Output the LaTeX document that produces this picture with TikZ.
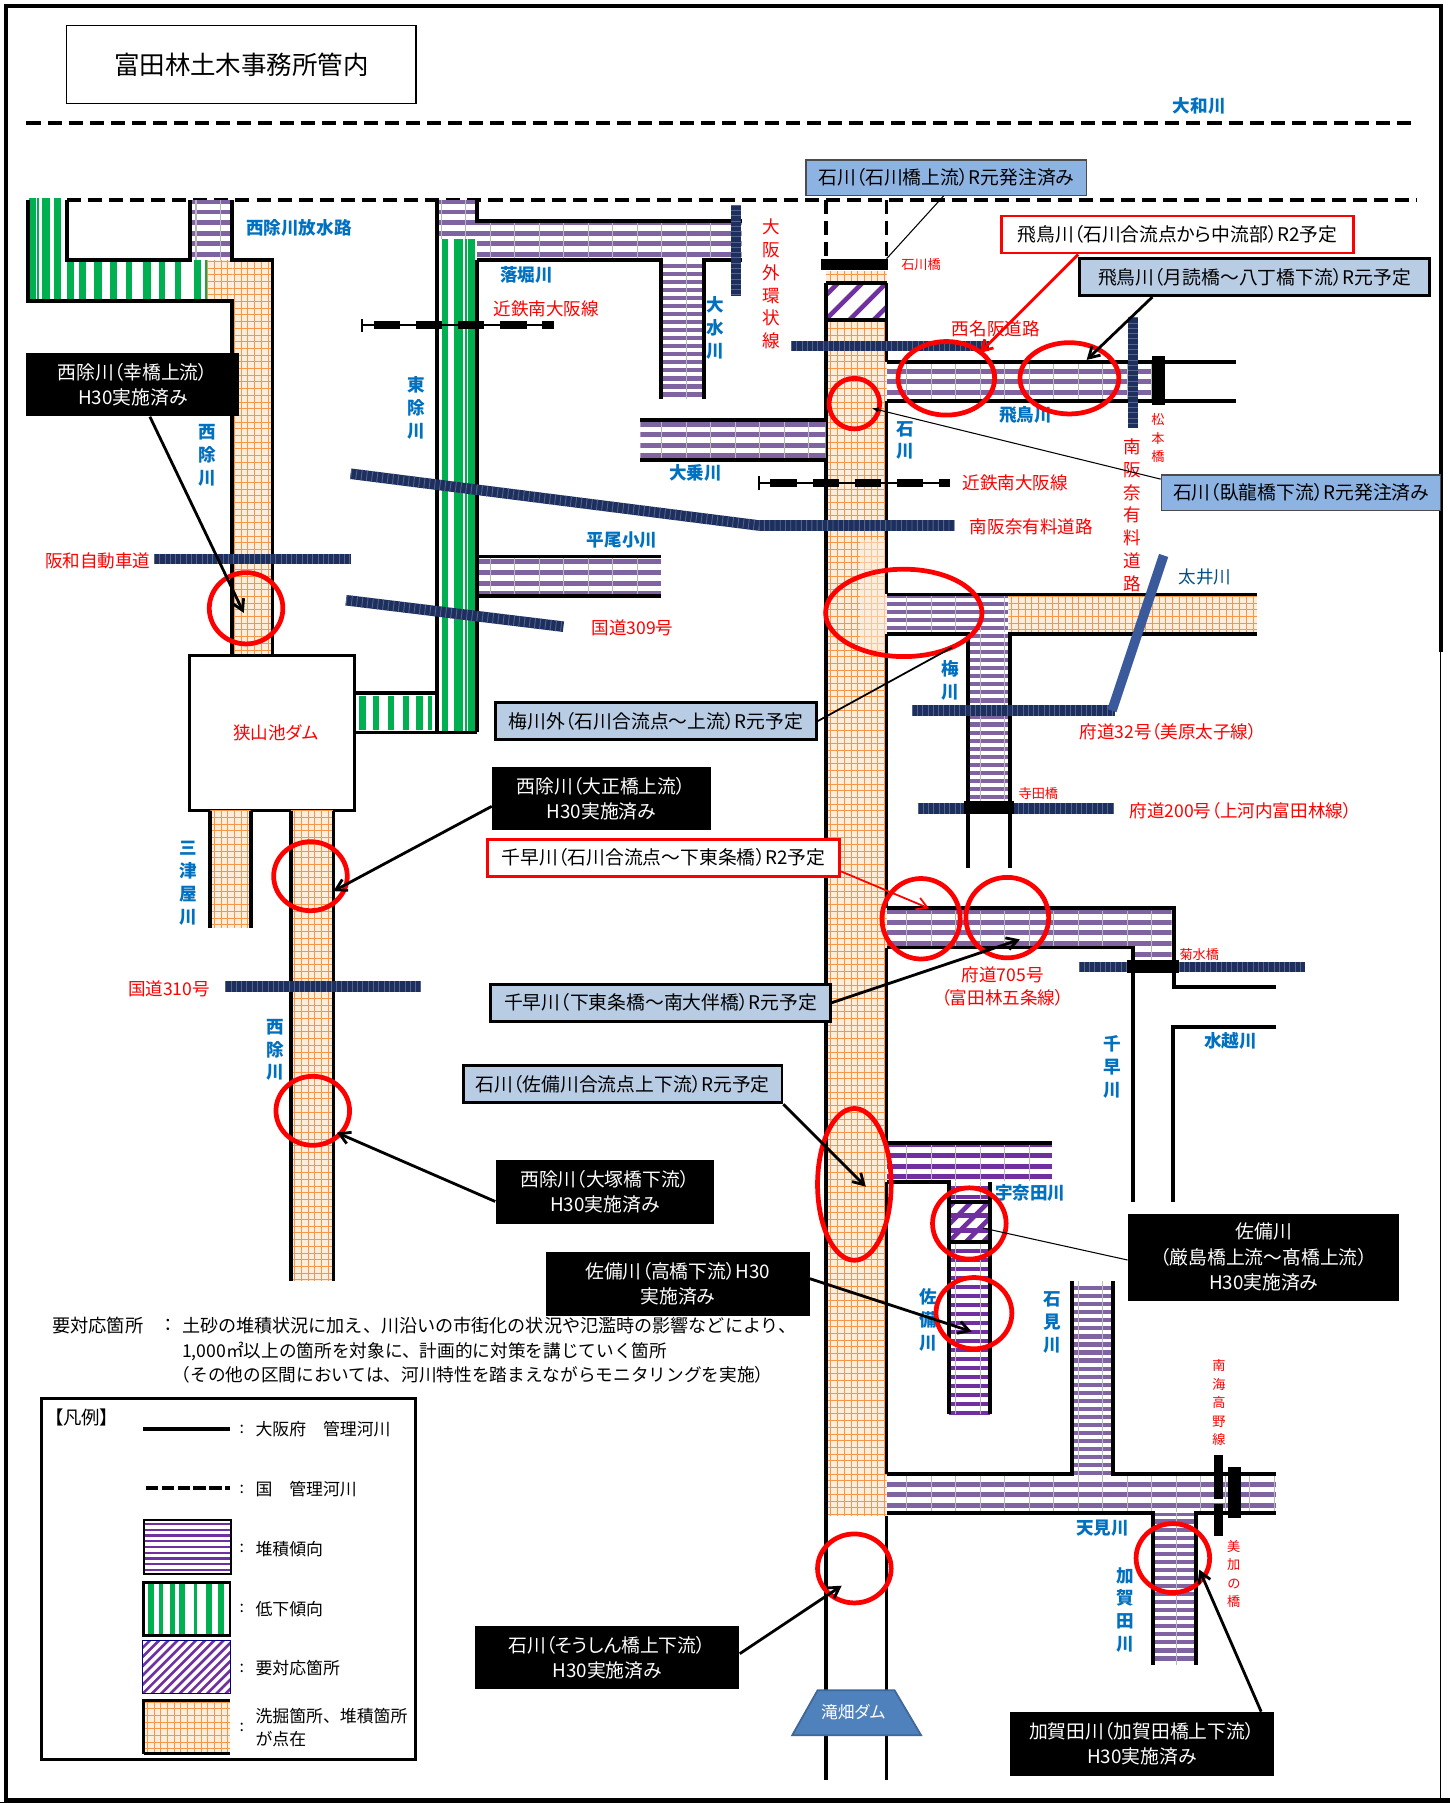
\documentclass[tikz,border=0pt]{standalone}
\usepackage{fontspec}
\usepackage{xcolor}
\usepackage{tikz}
\usetikzlibrary{calc,arrows.meta}
\setmainfont{Noto Sans CJK JP}[RawFeature=+palt]
\newfontfamily\wideja{Noto Sans CJK JP}
\definecolor{riverpurple}{HTML}{8064A2}
\definecolor{deeppurple}{HTML}{7030A0}
\definecolor{rivergreen}{HTML}{00B050}
\definecolor{gridorange}{HTML}{F79646}
\definecolor{paleorange}{HTML}{FDEDDD}
\definecolor{roadnavy}{HTML}{1C2F5E}
\definecolor{diagblue}{HTML}{3A5A9C}
\definecolor{labelblue}{HTML}{0070C0}
\definecolor{boxblue}{HTML}{8DB3E2}
\definecolor{boxpale}{HTML}{B8CCE4}
\definecolor{dambox}{HTML}{4F81BD}
\tikzset{
  river/.style={draw=black, line width=2.2pt},
  natriver/.style={draw=black, line width=2.2pt, dash pattern=on 8pt off 4pt},
  orangegrid/.style={draw=gridorange, line width=0.55pt, step=0.134cm},
  purplelines/.style={draw=riverpurple, line width=2.8pt, xstep=100cm, ystep=0.212cm},
  finelines/.style={ystep=0.161cm, line width=2.4pt},
  graylines/.style={draw=gray!55, line width=0.6pt, xstep=0.49cm, ystep=100cm},
  road/.style={draw=roadnavy, line width=6pt,
    postaction={draw=roadnavy!75!white, line width=6pt, dash pattern=on 0.5pt off 2.5pt}},
  railthin/.style={draw=black, line width=1.2pt},
  raildash/.style={draw=black, line width=4.6pt, dash pattern=on 15pt off 9pt},
  redring/.style={draw=red, line width=2.7pt},
  bluelab/.style={text=labelblue, align=center, inner sep=0pt, font=\fontsize{10}{13}\selectfont\bfseries},
  redlab/.style={text=red, align=center, inner sep=0pt, font=\fontsize{10}{13}\selectfont},
  smallred/.style={text=red, align=center, inner sep=0pt, font=\fontsize{7.5}{10.5}\selectfont},
  calloutbase/.style={align=center, inner sep=0pt, minimum height=0.74cm, font=\fontsize{10.7}{14.5}\selectfont},
  callblack/.style={calloutbase, fill=black, text=white, minimum height=1.27cm},
  callblue/.style={calloutbase, fill=boxblue, draw=black!70, line width=0.7pt, minimum height=0.71cm},
  callpale/.style={calloutbase, fill=boxpale, draw=black, line width=1.6pt},
  callred/.style={calloutbase, fill=white, draw=red, line width=1.6pt},
  lead/.style={draw=black, line width=1.6pt, -{Straight Barb[length=6pt,width=7pt]}},
  leadred/.style={draw=red, line width=1.6pt, -{Straight Barb[length=6pt,width=7pt]}},
  leadthin/.style={draw=black, line width=0.6pt},
  notetxt/.style={anchor=west, inner sep=0pt, font=\wideja\fontsize{10.05}{13}\selectfont},
  legendtxt/.style={anchor=west, inner sep=0pt, align=left, font=\wideja\fontsize{9.6}{13}\selectfont}
}
\newcommand{\purpleband}[5][]{%
  \begin{scope}
    \clip (#2,#3) rectangle (#4,#5);
    \fill[white] (#2,#3) rectangle (#4,#5);
    \draw[purplelines, #1] (#2,#3) grid (#4,#5);
    \draw[graylines] (#2,#3) grid (#4,#5);
  \end{scope}}
\newcommand{\orangeband}[4]{%
  \begin{scope}
    \clip (#1,#2) rectangle (#3,#4);
    \fill[paleorange] (#1,#2) rectangle (#3,#4);
    \draw[orangegrid] (#1,#2) grid (#3,#4);
  \end{scope}}
\newcommand{\hatchband}[5]{%
  \begin{scope}
    \clip (#1,#2) rectangle (#3,#4);
    \foreach \k in {-12,...,30}
      \draw[deeppurple, line width=2.6pt] ({#1+\k*#5},#4) -- ++(80,-80);
  \end{scope}}

\begin{document}
\begin{tikzpicture}[x=0.023cm,y=-0.023cm]
  \useasboundingbox (0,0) rectangle (1261,1568);
  \fill[white] (0,0) rectangle (1261,1568);

  % outer frame
  \draw[black, line width=2.2pt] (1253,567) -- (1253,5) -- (5,5) -- (5,1565) -- (1261,1565);
  \draw[black, line width=0.6pt] (1253,567) -- (1253,1565);
  \draw[black, line width=0.6pt] (0,1567.5) -- (1261,1567.5);

  % title and Yamato river
  \node[draw=black, line width=0.9pt, minimum width=6.99cm, minimum height=1.56cm, inner sep=0pt,
        font=\fontsize{14.5}{16}\selectfont] (title) at (210,56) {富田林土木事務所管内};
  \draw[natriver] (23,107) -- (1232,107);
  \draw[natriver] (58,174) -- (1232,174);
  \node[bluelab] (yamato) at (1043,92) {大和川};

  % Nishiyoke spillway, green
  \foreach \x/\w in {28/6,33/2,40/7,50/6}
    \fill[rivergreen] ({\x-\w/2},172) rectangle ({\x+\w/2},263);
  \foreach \x/\w in {61/6,72/6,85/7,99/6,112/5,128/7,141/5,155/5,172/6,179/2}
    \fill[rivergreen] ({\x-\w/2},226) rectangle ({\x+\w/2},263);
  \purpleband{165}{174}{202}{226}
  \orangeband{180}{226}{202}{262}
  \orangeband{202}{226}{237}{570}
  \draw[river] (24,174) -- (24,262) -- (202,262) -- (202,570);
  \draw[river] (58,174) -- (58,226) -- (165,226) -- (165,174);
  \draw[river] (202,174) -- (202,226) -- (237,226) -- (237,570);
  \node[bluelab] (nishiyokeRelief) at (260,198) {西除川放水路};
  \node[bluelab] (nishiyokeA) at (180,396) {西\\除\\川};

  % Higashiyoke and its branches
  \purpleband{380}{174}{415}{208}
  \foreach \x/\w in {387/6,396/2,399/7,405/2,410/6}
    \fill[rivergreen] ({\x-\w/2},208) rectangle ({\x+\w/2},637);
  \foreach \x/\w in {315/6,327/5,340/6,353/5,365/6,374/4}
    \fill[rivergreen] ({\x-\w/2},605) rectangle ({\x+\w/2},635);
  \purpleband{415}{192}{645}{226}
  \purpleband[finelines]{575}{226}{612}{347}
  \purpleband{415}{484}{575}{518}
  \draw[river] (380,174) -- (380,637);
  \draw[river] (415,174) -- (415,192) -- (645,192);
  \draw[river] (415,226) -- (415,637);
  \draw[river] (415,226) -- (575,226) -- (575,347);
  \draw[river] (645,226) -- (612,226) -- (612,347);
  \draw[river] (415,484) -- (575,484);
  \draw[river] (415,518) -- (575,518);
  \draw[river] (308,603) -- (380,603);
  \draw[river] (308,637) -- (415,637);
  \node[bluelab] (higashiyoke) at (362,355) {東\\除\\川};
  \node[bluelab] (ochibori) at (458,239) {落堀川};
  \node[bluelab] (omizu) at (622,285) {大\\水\\川};
  \node[bluelab] (hirao) at (541,470) {平尾小川};

  % Sayamaike dam and lower Nishiyoke
  \node[draw=black, line width=1.6pt, fill=white, minimum width=3.29cm, minimum height=3.1cm,
        inner sep=0pt] (sayama) at (236.5,637.5) {};
  \node[redlab] (sayamaLab) at (240,637) {狭山池ダム};
  \orangeband{183}{705}{218}{807}
  \orangeband{253}{705}{290}{1114}
  \draw[river] (183,705) -- (183,807);
  \draw[river] (218,705) -- (218,807);
  \draw[river] (253,705) -- (253,1114);
  \draw[river] (290,705) -- (290,1114);
  \node[bluelab] (mitsuya) at (164,768) {三\\津\\屋\\川};
  \node[bluelab] (nishiyokeB) at (239,913) {西\\除\\川};

  % Ishikawa main column
  \draw[natriver] (718,174) -- (718,225);
  \draw[natriver] (771,174) -- (771,225);
  \orangeband{718}{236}{771}{246}
  \hatchband{718}{246}{771}{278}{21}
  \orangeband{718}{278}{771}{1318}
  \fill[paleorange, opacity=0.55] (748,470) rectangle (771,570);
  \draw[river] (718,246) -- (718,1548);
  \draw[river] (718,246) -- (771,246);
  \draw[river] (718,278) -- (771,278);
  \draw[river] (771,246) -- (771,315);
  \draw[river] (771,349) -- (771,517);
  \draw[river] (771,1318) -- (771,1548);
  \fill[black] (714,225) rectangle (772,235);
  \node[bluelab] (ishikawaLab) at (787,383) {石\\川};
  \node[smallred] (ishikawaBr) at (801,230) {石川橋};

  % Daijo
  \purpleband{557}{365}{718}{400}
  \draw[river] (557,365) -- (718,365);
  \draw[river] (557,400) -- (718,400);
  \node[bluelab] (daijo) at (605,411) {大乗川};

  % Asuka
  \purpleband{771}{316}{1002}{348}
  \draw[river] (771,315) -- (1075,315);
  \draw[river] (771,349) -- (1075,349);
  \fill[black] (1002,310) rectangle (1013,352);
  \node[bluelab] (asuka) at (892,361) {飛鳥川};
  \node[smallred] (matsumoto) at (1007,381) {松\\本\\橋};

  % Taii and Ume
  \purpleband[finelines]{771}{518}{877}{550}
  \orangeband{877}{518}{1093}{550}
  \purpleband[finelines]{842}{551}{878}{697}
  \draw[river] (771,517) -- (1093,517);
  \draw[river] (771,551) -- (842,551) -- (842,755);
  \draw[river] (1093,551) -- (878,551) -- (878,755);
  \draw[river] (771,551) -- (771,790);
  \node[text=labelblue!70!black, inner sep=0pt, font=\fontsize{10}{13}\selectfont] (taii) at (1048,502) {太井川};
  \node[bluelab] (ume) at (826,592) {梅\\川};

  % Chihaya and Mizukoshi
  \purpleband{771}{792}{1019}{823}
  \purpleband{986}{823}{1019}{835}
  \draw[river] (771,790) -- (1021,790) -- (1021,858) -- (1110,858);
  \draw[river] (771,824) -- (985,824) -- (985,1045);
  \draw[river] (1110,893) -- (1020,893) -- (1020,1045);
  \draw[river] (771,824) -- (771,994);
  \node[bluelab] (chihaya) at (967,928) {千\\早\\川};
  \node[bluelab] (mizukoshi) at (1070,905) {水越川};

  % Unada and Sabi
  \purpleband[draw=deeppurple]{771}{995}{915}{1027}
  \purpleband[draw=deeppurple, finelines, ystep=0.18cm]{825}{1028}{861}{1230}
  \fill[white] (825,1045) rectangle (861,1080);
  \hatchband{825}{1045}{861}{1080}{15}
  \begin{scope}
    \clip (825,1045) rectangle (861,1080);
    \draw[purplelines, draw=deeppurple, ystep=0.3cm] (825,1045) grid (861,1080);
  \end{scope}
  \draw[river] (771,994) -- (915,994);
  \draw[river] (771,1028) -- (825,1028) -- (825,1230);
  \draw[river] (861,1028) -- (861,1230);
  \draw[river] (825,1045) -- (861,1045);
  \draw[river] (825,1080) -- (861,1080);
  \draw[river] (771,1028) -- (771,1282);
  \node[bluelab] (unada) at (896,1037) {宇奈田川};
  \node[bluelab] (sabi) at (807,1148) {佐\\備\\川};

  % Iwami, Amami and Kagata
  \purpleband[finelines]{932}{1114}{968}{1283}
  \purpleband{771}{1283}{1110}{1315}
  \purpleband[finelines]{1003}{1316}{1040}{1448}
  \draw[river] (932,1114) -- (932,1282) -- (771,1282);
  \draw[river] (968,1114) -- (968,1282) -- (1110,1282);
  \draw[river] (771,1316) -- (1003,1316) -- (1003,1448);
  \draw[river] (1110,1316) -- (1040,1316) -- (1040,1448);
  \node[bluelab] (iwami) at (915,1150) {石\\見\\川};
  \node[bluelab] (amami) at (959,1329) {天見川};
  \node[bluelab] (kagata) at (979,1400) {加\\賀\\田\\川};

  % roads
  \draw[road] (134,486) -- (305,486);
  \draw[road] (305,412) -- (660,457) -- (830,457);
  \draw[road] (301,522) -- (490,545);
  \draw[road] (196,858) -- (366,858);
  \draw[road] (640,178) -- (640,257);
  \draw[road] (688,301) -- (860,301);
  \draw[road] (985.5,276) -- (985.5,372);
  \draw[road] (793,618) -- (970,618);
  \draw[road] (798,703) -- (969,703);
  \draw[road] (938,841) -- (1135,841);
  \draw[draw=diagblue, line width=5.5pt] (1012,483) -- (967,618);
  \fill[black] (838,697) rectangle (882,708);
  \fill[black] (980,835) rectangle (1025,846);
  \node[redlab] (hanwa) at (85,488) {阪和自動車道};
  \node[redlab] (r310) at (147,860) {国道310号};
  \node[redlab] (r309) at (550,546) {国道309号};
  \node[redlab] (nishimeihan) at (866,286) {西名阪道路};
  \node[redlab] (minamiA) at (897,458) {南阪奈有料道路};
  \node[redlab] (minamiB) at (985,448) {南\\阪\\奈\\有\\料\\道\\路};
  \node[redlab] (gaikan) at (671,247) {大\\阪\\外\\環\\状\\線};
  \node[redlab] (pref32) at (1016,636) {府道32号（美原太子線）};
  \node[redlab] (pref200) at (1079,705) {府道200号（上河内富田林線）};
  \node[redlab] (pref705) at (872,858) {府道705号\\（富田林五条線）};
  \node[smallred] (terada) at (903,690) {寺田橋};
  \node[smallred] (kikusui) at (1043,830) {菊水橋};

  % railways
  \draw[railthin] (315,283) -- (482,283);
  \draw[railthin] (315,277) -- (315,289);
  \draw[raildash] (325,283) -- (482,283);
  \draw[railthin] (660,420) -- (826,420);
  \draw[railthin] (660,414) -- (660,426);
  \draw[raildash] (670,420) -- (826,420);
  \draw[black, line width=5pt, dash pattern=on 25pt off 3pt] (1060,1265) -- (1060,1336);
  \fill[black] (1068,1276) rectangle (1079,1320);
  \node[redlab] (kintetsuA) at (475,269) {近鉄南大阪線};
  \node[redlab] (kintetsuB) at (883,420) {近鉄南大阪線};
  \node[smallred] (nankai) at (1060,1220) {南\\海\\高\\野\\線};
  \node[smallred] (mikano) at (1073,1369) {美\\加\\の\\橋};

  % dam
  \draw[draw=dambox!80!black, line width=1pt, fill=dambox] (689,1509) -- (711,1470) -- (778,1470) -- (801,1509) -- cycle;
  \node[text=white, inner sep=0pt, font=\fontsize{9.5}{12}\selectfont] (takihata) at (742,1489) {滝畑ダム};

  % rings
  \draw[redring] (214,529) ellipse (32 and 31);
  \draw[redring] (270,762) ellipse (32 and 30);
  \draw[redring] (272,966) ellipse (32 and 30);
  \draw[redring] (743,351) ellipse (22 and 22);
  \draw[redring] (823,329) ellipse (42 and 32);
  \draw[redring] (930,329) ellipse (43 and 31);
  \draw[redring] (786,533) ellipse (68 and 38);
  \draw[redring] (801,799) ellipse (34 and 35);
  \draw[redring] (876,798) ellipse (36 and 35);
  \draw[redring] (743,1030) ellipse (32 and 66);
  \draw[redring] (843,1064) ellipse (32 and 31);
  \draw[redring] (847,1142) ellipse (33 and 31);
  \draw[redring] (743,1364) ellipse (32 and 30);
  \draw[redring] (1020,1355) ellipse (32 and 30);

  % callouts
  \node[callblack, minimum width=4.26cm] (cbSaiwai) at (115.5,334.5) {西除川（幸橋上流）\\H30実施済み};
  \node[callblue, minimum width=5.61cm] (bbIshikawaBr) at (823,154.5) {石川（石川橋上流）R元発注済み};
  \node[callred, minimum width=7.04cm] (rbAsuka) at (1024,204) {飛鳥川（石川合流点から中流部）R2予定};
  \node[callpale, minimum width=6.99cm] (pbAsuka) at (1091,241) {飛鳥川（月読橋～八丁橋下流）R元予定};
  \node[callblue, minimum width=5.59cm] (bbGaryu) at (1131.5,428.5) {石川（臥龍橋下流）R元発注済み};
  \node[callpale, minimum width=6.42cm] (pbUme) at (570.5,627) {梅川外（石川合流点～上流）R元予定};
  \node[callblack, minimum width=4.37cm] (cbTaisho) at (523,694.5) {西除川（大正橋上流）\\H30実施済み};
  \node[callred, minimum width=7.04cm] (rbChihaya) at (577,746) {千早川（石川合流点～下東条橋）R2予定};
  \node[callpale, minimum width=6.79cm] (pbChihaya) at (574.5,872) {千早川（下東条橋～南大伴橋）R元予定};
  \node[callpale, minimum width=6.37cm] (pbSabi) at (541.5,943) {石川（佐備川合流点上下流）R元予定};
  \node[callblack, minimum width=4.37cm] (cbOtsuka) at (526,1036.5) {西除川（大塚橋下流）\\H30実施済み};
  \node[callblack, minimum width=5.27cm] (cbTakahashi) at (589.5,1116.5) {佐備川（高橋下流）H30\\実施済み};
  \node[callblack, minimum width=5.43cm, minimum height=1.73cm] (cbItsuku) at (1099,1093.5) {佐備川\\（厳島橋上流～髙橋上流）\\H30実施済み};
  \node[callblack, minimum width=5.29cm] (cbSoshin) at (528,1441.5) {石川（そうしん橋上下流）\\H30実施済み};
  \node[callblack, minimum width=5.29cm] (cbKagata) at (993,1516.5) {加賀田川（加賀田橋上下流）\\H30実施済み};

  % leader tips
  \coordinate (tipSaiwai) at (212,533);
  \coordinate (tipIshikawaBr) at (771,225);
  \coordinate (tipAsukaR) at (852,307);
  \coordinate (tipAsuka) at (945,313);
  \coordinate (tipGaryu) at (758,355);
  \coordinate (tipUme) at (828,563);
  \coordinate (tipTaisho) at (290,775);
  \coordinate (tipChihayaR) at (808,790);
  \coordinate (tipChihaya) at (887,817);
  \coordinate (tipSabi) at (753,1032);
  \coordinate (tipOtsuka) at (293,985);
  \coordinate (tipTakahashi) at (845,1158);
  \coordinate (tipItsuku) at (855,1068);
  \coordinate (tipSoshin) at (732,1379);
  \coordinate (tipKagata) at (1043,1365);

  \draw[lead] ($(cbSaiwai.south west)!.58!(cbSaiwai.south east)$) -- (tipSaiwai);
  \draw[leadthin] ($(bbIshikawaBr.south west)!.49!(bbIshikawaBr.south east)$) -- (tipIshikawaBr);
  \draw[leadred] ($(rbAsuka.south west)!.22!(rbAsuka.south east)$) -- (tipAsukaR);
  \draw[lead] ($(pbAsuka.south west)!.21!(pbAsuka.south east)$) -- (tipAsuka);
  \draw[leadthin, -{Latex[length=4pt]}] ($(bbGaryu.north west)!.13!(bbGaryu.south west)$) -- (tipGaryu);
  \draw[leadthin, line width=1pt] ($(pbUme.south east)!.5!(pbUme.north east)$) -- (tipUme);
  \draw[lead] ($(cbTaisho.north west)!.62!(cbTaisho.south west)$) -- (tipTaisho);
  \draw[leadred, line width=1pt] ($(rbChihaya.north east)!.84!(rbChihaya.south east)$) -- (tipChihayaR);
  \draw[lead] (pbChihaya.east) -- (tipChihaya);
  \draw[lead] (pbSabi.south east) -- (tipSabi);
  \draw[lead] ($(cbOtsuka.north west)!.65!(cbOtsuka.south west)$) -- (tipOtsuka);
  \draw[lead] ($(cbTakahashi.north east)!.42!(cbTakahashi.south east)$) -- (tipTakahashi);
  \draw[leadthin] ($(cbItsuku.north west)!.53!(cbItsuku.south west)$) -- (tipItsuku);
  \draw[lead] ($(cbSoshin.north east)!.44!(cbSoshin.south east)$) -- (tipSoshin);
  \draw[lead] ($(cbKagata.north west)!.95!(cbKagata.north east)$) -- (tipKagata);

  % notes
  \node[notetxt, font=\wideja\fontsize{10.4}{13}\selectfont] (noteHead) at (45,1153) {要対応箇所};
  \node[notetxt] (noteColon) at (138,1153) {：};
  \node[notetxt, font=\wideja\fontsize{10.3}{13}\selectfont] (noteA) at (158,1153) {土砂の堆積状況に加え、川沿いの市街化の状況や氾濫時の影響などにより、};
  \node[notetxt] (noteB) at (158,1175) {1,000㎡以上の箇所を対象に、計画的に対策を講じていく箇所};
  \node[notetxt] (noteC) at (150,1196) {（その他の区間においては、河川特性を踏まえながらモニタリングを実施）};

  % legend
  \draw[black, line width=1.6pt] (36,1216) rectangle (361,1530);
  \node[inner sep=0pt, font=\fontsize{10.5}{13}\selectfont] (legendHead) at (71,1233) {【凡例】};
  \draw[river] (124,1243) -- (200,1243);
  \draw[natriver, dash pattern=on 7pt off 2pt] (127,1294) -- (200,1294);
  \begin{scope}
    \clip (125,1322) rectangle (201,1369);
    \draw[draw=deeppurple, line width=1.2pt, xstep=100cm, ystep=0.115cm] (125,1322) grid (201,1369);
  \end{scope}
  \draw[black, line width=1.2pt] (125,1322) rectangle (201,1369);
  \foreach \x/\w in {131/5,140/4,150/5,158/5,170/3,182/5,192/5}
    \fill[rivergreen] ({\x-\w/2},1376) rectangle ({\x+\w/2},1422);
  \draw[black, line width=1.6pt] (125,1376) rectangle (200,1422);
  \begin{scope}
    \clip (124,1427) rectangle (200,1473);
    \foreach \k in {-5,...,14}
      \draw[deeppurple, line width=1.5pt] ({124+\k*8},1473) -- ++(60,-60);
  \end{scope}
  \draw[black!50!blue, line width=0.5pt] (124,1427) rectangle (200,1473);
  \orangeband{125}{1479}{200}{1525}
  \draw[black, line width=1.6pt] (125,1525) -- (200,1525);
  \draw[black, line width=1.6pt] (125,1525) -- (125,1479) -- (200,1479);
  \foreach \y/\name in {1243/A,1295/B,1347/C,1399/D,1451/E,1502/F}
    \node[legendtxt, font=\fontsize{9}{12}\selectfont] (colon\name) at (208,\y) {:};
  \node[legendtxt] (lgA) at (222,1243) {大阪府　管理河川};
  \node[legendtxt] (lgB) at (222,1295) {国　管理河川};
  \node[legendtxt] (lgC) at (222,1347) {堆積傾向};
  \node[legendtxt] (lgD) at (222,1399) {低下傾向};
  \node[legendtxt] (lgE) at (222,1451) {要対応箇所};
  \node[legendtxt] (lgG) at (222,1502) {洗掘箇所、堆積箇所\\が点在};
\end{tikzpicture}
\end{document}
